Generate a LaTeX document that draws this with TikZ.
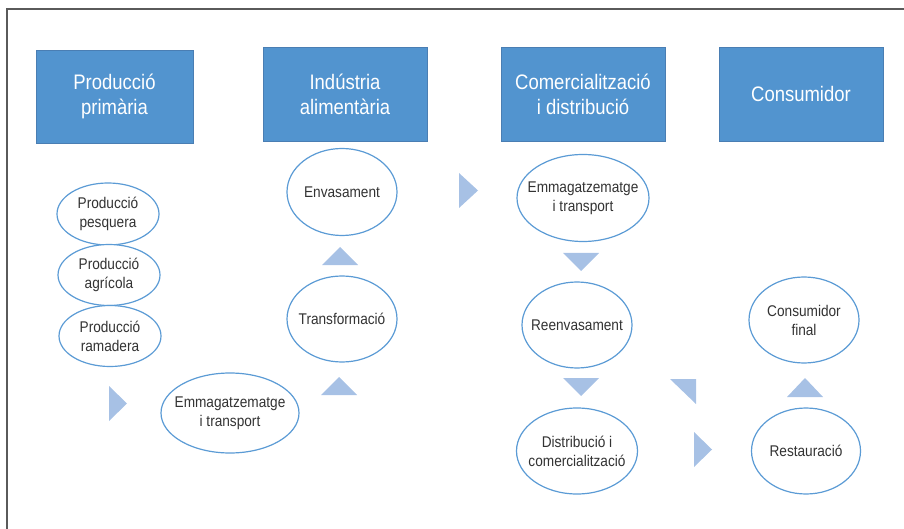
\documentclass[tikz,border=0pt]{standalone}
\usepackage{fontspec}
\setmainfont{Liberation Sans}[FakeStretch=0.88]
\usetikzlibrary{shapes.geometric}
\definecolor{boxblue}{HTML}{5294CF}
\definecolor{boxedge}{HTML}{4A7EB3}
\definecolor{ringblue}{HTML}{5B9BD5}
\definecolor{flowblue}{HTML}{A7C1E5}
\definecolor{framegray}{HTML}{5A5A5A}
\definecolor{textgray}{HTML}{333333}

\begin{document}
\begin{tikzpicture}
[x=1pt, y=-1pt,
stage/.style={rectangle, fill=boxblue, draw=boxedge, line width=0.8pt, text=white, align=center, minimum width=164pt, minimum height=94pt, inner sep=0pt, font=\fontsize{21}{25}\selectfont},
oval/.style={ellipse, draw=ringblue, line width=1.2pt, fill=white, text=textgray, align=center, inner xsep=-14pt, inner ysep=-8pt, font=\fontsize{15.5}{19}\selectfont},
flowtri/.style={fill=flowblue}]

\useasboundingbox (0,0) rectangle (904,529);
\draw[framegray, line width=1.5pt] (7,529) -- (7,9) -- (904,9);

% stages
\node[stage, minimum width=157pt, minimum height=93pt] (primaria) at (114.5,96.5) {Producció\\primària};
\node[stage] (industria) at (345,94) {Indústria\\alimentària};
\node[stage] (comerc) at (583,94) {Comercialització\\i distribució};
\node[stage] (consum) at (801,94) {Consumidor};

% steps
\node[oval, minimum width=102pt, minimum height=62pt] (pesquera) at (108,214) {Producció\\pesquera};
\node[oval, minimum width=102pt, minimum height=61pt] (agricola) at (109,275) {Producció\\agrícola};
\node[oval, minimum width=102pt, minimum height=61pt] (ramadera) at (110,336) {Producció\\ramadera};
\node[oval, minimum width=138pt, minimum height=80pt] (emmag1) at (230,413) {Emmagatzematge\\i transport};
\node[oval, minimum width=110pt, minimum height=86pt] (transf) at (342,319) {Transformació};
\node[oval, minimum width=110pt, minimum height=87pt] (envas) at (342,192) {Envasament};
\node[oval, minimum width=132pt, minimum height=87pt] (emmag2) at (583,198) {Emmagatzematge\\i transport};
\node[oval, minimum width=110pt, minimum height=86pt] (reenvas) at (577,325) {Reenvasament};
\node[oval, minimum width=121pt, minimum height=86pt] (distrib) at (577,451) {Distribució i\\comercialització};
\node[oval, minimum width=110pt, minimum height=86pt] (final) at (804,320) {Consumidor\\final};
\node[oval, minimum width=109pt, minimum height=86pt] (restaur) at (806,451) {Restauració};

% arrow heads
\fill[flowtri] (109,386) -- (109,421) -- (127,403.5) -- cycle;
\fill[flowtri] (321,395) -- (357,395) -- (339,377) -- cycle;
\fill[flowtri] (322,265) -- (358,265) -- (340,247) -- cycle;
\fill[flowtri] (459,173) -- (459,208) -- (478,190.5) -- cycle;
\fill[flowtri] (563,253) -- (599,253) -- (581,271) -- cycle;
\fill[flowtri] (563,378) -- (599,378) -- (581,396) -- cycle;
\fill[flowtri] (670,379) -- (696,379) -- (696,404) -- cycle;
\fill[flowtri] (694,432) -- (694,467) -- (712,449.5) -- cycle;
\fill[flowtri] (787,397) -- (823,397) -- (805,378) -- cycle;
\end{tikzpicture}
\end{document}
